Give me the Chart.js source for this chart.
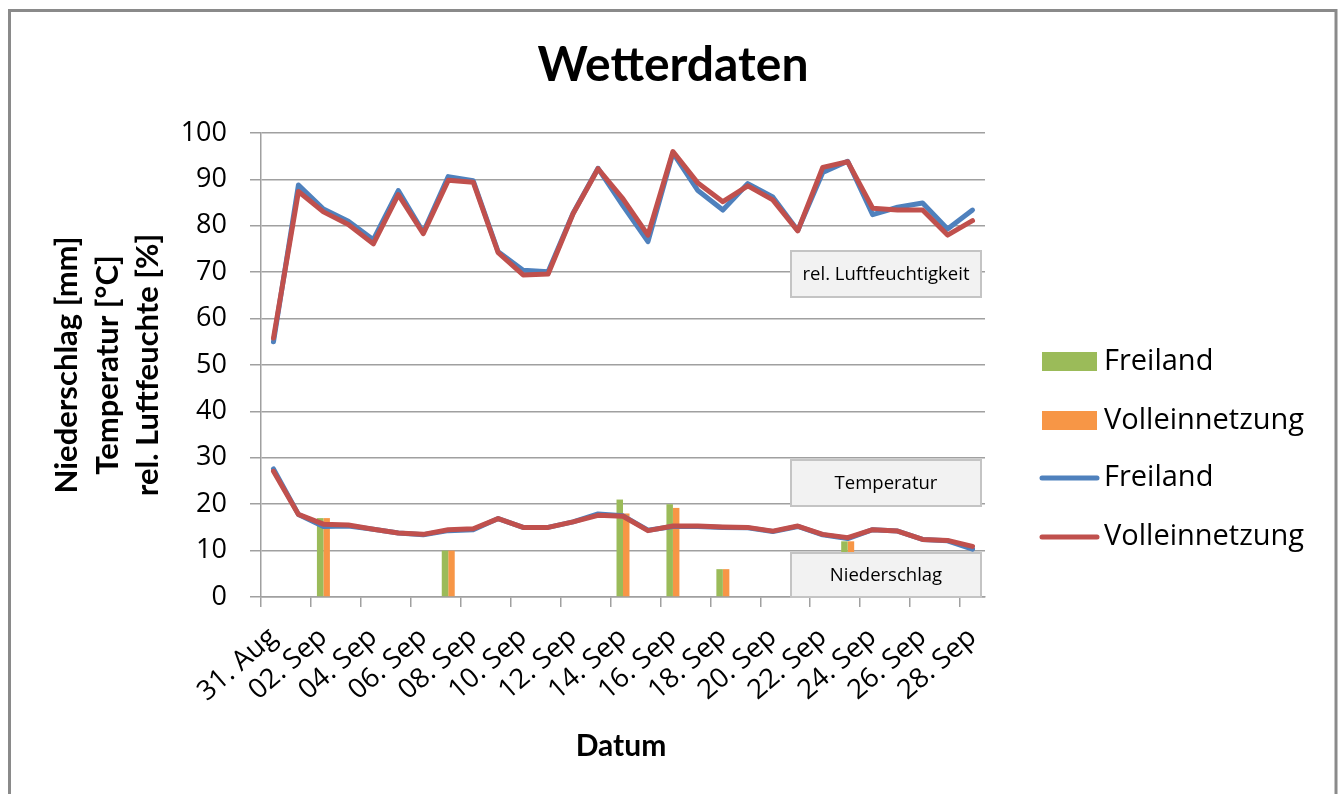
<!DOCTYPE html>
<html>
<head>
<meta charset="utf-8">
<title>Wetterdaten</title>
<script src="https://cdn.jsdelivr.net/npm/chart.js@4.4.1/dist/chart.umd.min.js"></script>
<style>
  html, body { margin: 0; padding: 0; background: #ffffff; }
  canvas { display: block; }
</style>
</head>
<body>
<canvas id="wetter" width="1343" height="794"></canvas>
<script>
// Datum (31. Aug – 28. Sep)
const days = [
  '31. Aug', '01. Sep', '02. Sep', '03. Sep', '04. Sep', '05. Sep', '06. Sep', '07. Sep',
  '08. Sep', '09. Sep', '10. Sep', '11. Sep', '12. Sep', '13. Sep', '14. Sep', '15. Sep',
  '16. Sep', '17. Sep', '18. Sep', '19. Sep', '20. Sep', '21. Sep', '22. Sep', '23. Sep',
  '24. Sep', '25. Sep', '26. Sep', '27. Sep', '28. Sep'
];

// Niederschlag [mm]
const rainFreiland = [0, 0, 17, 0, 0, 0, 0, 10, 0, 0, 0, 0, 0, 0, 21, 0, 20, 0, 6, 0, 0, 0, 0, 12, 0, 0, 0, 0, 0];
const rainVoll     = [0, 0, 17, 0, 0, 0, 0, 10, 0, 0, 0, 0, 0, 0, 18, 0, 19.2, 0, 6, 0, 0, 0, 0, 12, 0, 0, 0, 0, 0];

// rel. Luftfeuchte [%]
const humFreiland = [55.0, 88.8, 83.6, 81.0, 77.0, 87.6, 78.6, 90.6, 89.7, 74.4, 70.4, 70.1, 82.7, 92.4, 84.3,
                     76.6, 95.7, 87.6, 83.4, 89.1, 86.2, 79.0, 91.5, 93.9, 82.4, 84.0, 84.9, 79.3, 83.4];
const humVoll     = [55.8, 87.4, 83.0, 80.3, 76.1, 86.7, 78.3, 89.8, 89.4, 74.2, 69.4, 69.6, 82.6, 92.3, 85.8,
                     78.0, 96.0, 89.2, 85.2, 88.6, 85.6, 78.9, 92.6, 93.8, 83.8, 83.4, 83.4, 78.0, 81.1];

// Temperatur [°C]
const tempFreiland = [27.6, 17.8, 15.2, 15.3, 14.6, 13.8, 13.4, 14.3, 14.5, 16.9, 15.0, 15.0, 16.2, 17.9, 17.5,
                      14.4, 15.2, 15.2, 15.0, 14.9, 14.1, 15.2, 13.4, 12.6, 14.5, 14.2, 12.4, 12.1, 10.3];
const tempVoll     = [27.1, 17.8, 15.7, 15.5, 14.6, 13.8, 13.5, 14.5, 14.7, 16.9, 15.0, 15.0, 16.2, 17.6, 17.4,
                      14.3, 15.3, 15.3, 15.1, 15.0, 14.2, 15.3, 13.5, 12.8, 14.5, 14.2, 12.4, 12.2, 10.9];

// Y axis ticks
const yTicks = [0, 10, 20, 30, 40, 50, 60, 70, 80, 90, 100];

const titleText = 'Wetterdaten';
const yTitleLines = ['Niederschlag [mm]', 'Temperatur [°C]', 'rel. Luftfeuchte [%]'];
const xTitleText = 'Datum';
const noteLabels = ['rel. Luftfeuchtigkeit', 'Temperatur', 'Niederschlag'];

const FONT = '"Open Sans", "Noto Sans", "DejaVu Sans", sans-serif';
const FONT_BOLD = 'Lato, "Open Sans", "DejaVu Sans", sans-serif';
const C_GREEN = '#9bbb59', C_ORANGE = '#f79646', C_BLUE = '#4f81bd', C_RED = '#c0504d';
const GRID = '#a0a0a0';

function lineSet(label, data, color, order, inLegend) {
  return {
    type: 'line', label, data, borderColor: color, backgroundColor: color,
    borderWidth: 5, pointRadius: 0, tension: 0, order,
    borderJoinStyle: 'round', borderCapStyle: 'round', inLegend
  };
}

const datasets = [
  { type: 'bar', label: 'Freiland', data: rainFreiland, backgroundColor: C_GREEN, order: 3, inLegend: true,
    categoryPercentage: 0.52, barPercentage: 1.0 },
  { type: 'bar', label: 'Volleinnetzung', data: rainVoll, backgroundColor: C_ORANGE, order: 3, inLegend: true,
    categoryPercentage: 0.52, barPercentage: 1.0 },
  lineSet('Freiland', humFreiland, C_BLUE, 2, true),
  lineSet('Volleinnetzung', humVoll, C_RED, 1, true),
  lineSet('Freiland', tempFreiland, C_BLUE, 2, false),
  lineSet('Volleinnetzung', tempVoll, C_RED, 1, false)
];

// Frame, heading, axis titles
const decorPlugin = {
  id: 'decor',
  beforeDraw(chart) {
    const ctx = chart.ctx;
    ctx.save();
    ctx.fillStyle = '#ffffff';
    ctx.fillRect(0, 0, chart.width, chart.height);
    ctx.strokeStyle = '#8a8a8a';
    ctx.lineWidth = 3;
    ctx.strokeRect(9.5, 10.5, 1326.5, 800);
    ctx.restore();
  },
  afterDraw(chart) {
    const ctx = chart.ctx;
    const a = chart.chartArea;
    ctx.save();
    ctx.fillStyle = '#000000';
    ctx.textAlign = 'center';
    ctx.textBaseline = 'middle';
    ctx.font = 'bold 48px ' + FONT_BOLD;
    ctx.fillText(titleText, 673, 66);

    ctx.font = 'bold 30px ' + FONT_BOLD;
    ctx.fillText(xTitleText, 621, 746);

    ctx.translate(0, (a.top + a.bottom) / 2);
    ctx.rotate(-Math.PI / 2);
    ctx.font = 'bold 31px ' + FONT_BOLD;
    const xs = [67, 108, 148];
    yTitleLines.forEach((t, i) => {
      ctx.fillText(t, 0, xs[i]);
    });
    ctx.restore();
  }
};

// Grey note boxes inside the plot
const notesPlugin = {
  id: 'notes',
  afterDatasetsDraw(chart) {
    const ctx = chart.ctx;
    const a = chart.chartArea;
    const right = a.right - 4;
    const w = 190;
    const boxes = [[251, 46], [460, 46], [553, 44]];
    ctx.save();
    ctx.font = '18.5px ' + FONT;
    ctx.textAlign = 'center';
    ctx.textBaseline = 'middle';
    boxes.forEach(([top, h], i) => {
      ctx.fillStyle = '#f2f2f2';
      ctx.fillRect(right - w, top, w, h);
      ctx.strokeStyle = '#c4c4c4';
      ctx.lineWidth = 2;
      ctx.strokeRect(right - w, top, w, h);
      ctx.fillStyle = '#000000';
      ctx.fillText(noteLabels[i], right - w / 2, top + h / 2 + 1);
    });
    ctx.restore();
  }
};

// Legend on the right, built from the datasets
const legendPlugin = {
  id: 'sideLegend',
  afterDraw(chart) {
    const ctx = chart.ctx;
    const items = chart.data.datasets.filter(d => d.inLegend);
    const ys = [362, 421, 478, 537];
    ctx.save();
    ctx.font = '29px ' + FONT;
    ctx.textAlign = 'left';
    ctx.textBaseline = 'middle';
    items.forEach((d, i) => {
      const y = ys[i];
      if (d.type === 'bar') {
        ctx.fillStyle = d.backgroundColor;
        ctx.fillRect(1042, y - 10, 55, 19);
      } else {
        ctx.strokeStyle = d.borderColor;
        ctx.lineWidth = 5;
        ctx.lineCap = 'round';
        ctx.beginPath();
        ctx.moveTo(1042, y);
        ctx.lineTo(1097, y);
        ctx.stroke();
      }
      ctx.fillStyle = '#000000';
      ctx.fillText(d.label, 1104, y);
    });
    ctx.restore();
  }
};

new Chart(document.getElementById('wetter'), {
  data: { labels: days, datasets },
  options: {
    responsive: false,
    animation: false,
    devicePixelRatio: 1,
    layout: { padding: { left: 0, top: 133, right: 358, bottom: 0 } },
    plugins: {
      legend: { display: false },
      title: { display: false },
      tooltip: { enabled: false }
    },
    scales: {
      x: {
        type: 'category',
        offset: true,
        afterFit(s) { s.height = 197; },
        grid: {
          drawOnChartArea: false, drawTicks: true, tickLength: 10, lineWidth: 1.5, offset: true,
          color: (c) => (c.index % 2 === 0 ? GRID : 'rgba(0,0,0,0)')
        },
        border: { color: GRID, width: 1.5 },
        ticks: {
          autoSkip: false, maxRotation: 41, minRotation: 41, padding: 14,
          color: '#000000', font: { family: FONT, size: 27.5 },
          callback(v, i) { return i % 2 === 0 ? days[i] : ''; }
        }
      },
      y: {
        min: 0, max: 100,
        afterFit(s) { s.width = 261; },
        afterBuildTicks(s) { s.ticks = yTicks.map(v => ({ value: v })); },
        grid: { color: GRID, lineWidth: 1.5, tickLength: 11 },
        border: { color: GRID, width: 1.5 },
        ticks: { padding: 23, color: '#000000', font: { family: FONT, size: 27 } }
      }
    }
  },
  plugins: [decorPlugin, notesPlugin, legendPlugin]
});
</script>
</body>
</html>
